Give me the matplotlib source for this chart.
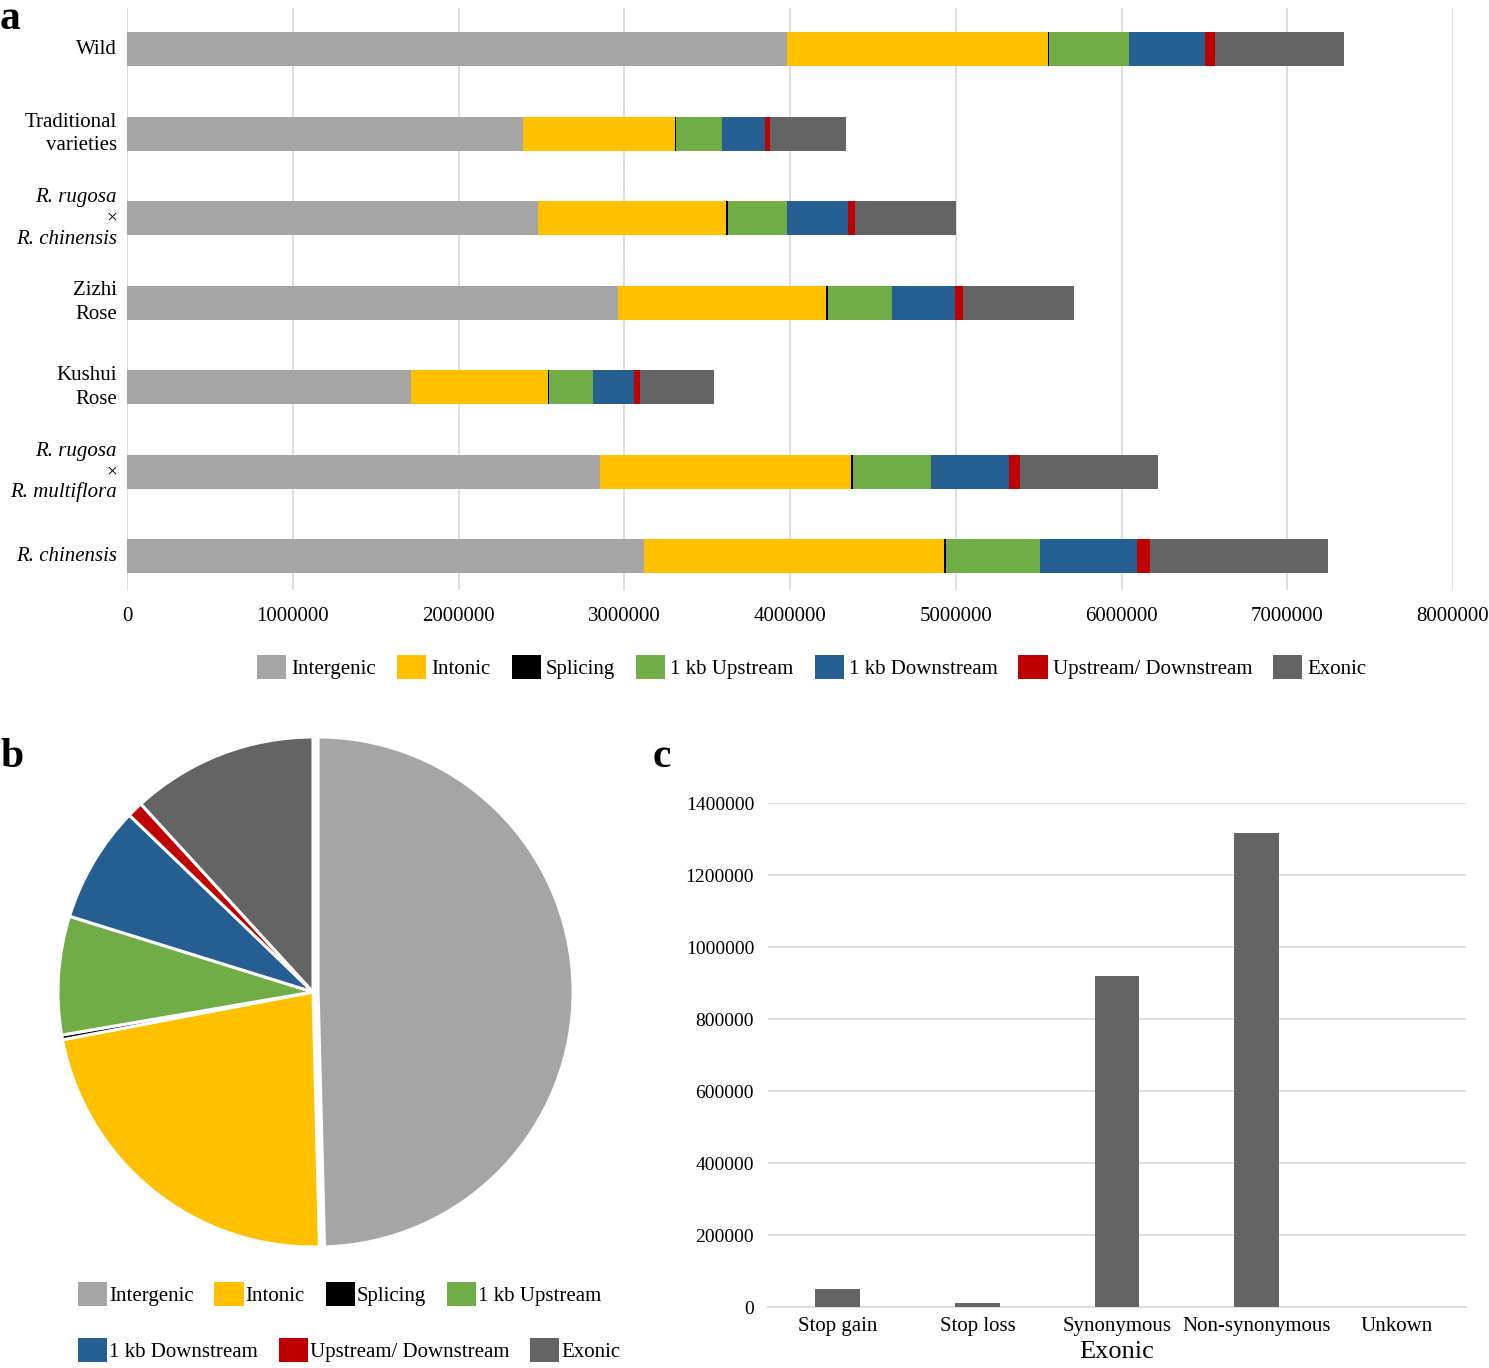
import matplotlib
matplotlib.use("Agg")
import matplotlib.pyplot as plt
from matplotlib.patches import Patch
import numpy as np

plt.rcParams['font.family'] = ['Liberation Serif', 'DejaVu Serif']

# ---------------- data ----------------
groups = ["Wild", "Traditional varieties", "R. rugosa × R. chinensis", "Zizhi Rose",
          "Kushui Rose", "R. rugosa × R. multiflora", "R. chinensis"]
categories = ["Intergenic", "Intonic", "Splicing", "1 kb Upstream", "1 kb Downstream",
              "Upstream/ Downstream", "Exonic"]
colors = ["#A5A5A5", "#FFC000", "#000000", "#70AD47", "#255E91", "#C00000", "#646464"]

intergenic = [3980000, 2389000, 2480000, 2962000, 1713000, 2854000, 3119000]
intonic    = [1577000,  917000, 1134000, 1255000,  827000, 1514000, 1810000]
splicing   = [   8000,    6000,   10000,   10000,    6000,   10000,   12000]
upstream   = [ 481000,  278000,  358000,  388000,  265000,  473000,  567000]
downstream = [ 459000,  259000,  368000,  380000,  247000,  470000,  585000]
updown     = [  60000,   30000,   42000,   48000,   36000,   66000,   78000]
exonic     = [ 778000,  459000,  609000,  670000,  446000,  833000, 1074000]
series = [intergenic, intonic, splicing, upstream, downstream, updown, exonic]

pie_values = [49.6, 22.4, 0.3, 7.5, 7.4, 1.0, 11.8]

exonic_types = ["Stop gain", "Stop loss", "Synonymous", "Non-synonymous", "Unkown"]
exonic_counts = [50000, 11000, 919000, 1317000, 0]

# ---------------- figure ----------------
W, H = 1489, 1368
fig = plt.figure(figsize=(W / 100, H / 100), dpi=100)

def fx(px):
    return px / W

def fy(py):
    return 1 - py / H

# ---------------- panel a ----------------
axa = fig.add_axes([fx(127), fy(590), fx(1453 - 127), (590 - 8) / H])
ypos = np.arange(len(groups))[::-1]
left = np.zeros(len(groups))
for vals, col, lab in zip(series, colors, categories):
    axa.barh(ypos, vals, left=left, height=0.4, color=col, label=lab, zorder=3)
    left += np.array(vals)
axa.set_xlim(0, 8000000)
axa.set_ylim(-0.40, 6.49)
axa.set_xticks(np.arange(0, 8000001, 1000000))
axa.set_xticklabels([f"{v:d}" for v in range(0, 8000001, 1000000)], fontsize=15)
axa.tick_params(axis='x', length=0, pad=12)
axa.set_yticks([])
axa.grid(axis='x', color='#D9D9D9', linewidth=1.2, zorder=0)
for s in axa.spines.values():
    s.set_visible(False)

lab_fs = 15
def ylabel_lines(y, lines, spacing=0.28):
    n = len(lines)
    for i, (txt, style) in enumerate(lines):
        off = (i - (n - 1) / 2) * spacing
        axa.text(-0.0075, y - off, txt, transform=axa.get_yaxis_transform(),
                 ha='right', va='center', fontsize=lab_fs if txt != "×" else 14,
                 style=style)

ylabel_lines(6, [("Wild", 'normal')])
ylabel_lines(5, [("Traditional", 'normal'), ("varieties", 'normal')])
ylabel_lines(4, [("R. rugosa", 'italic'), ("×", 'normal'), ("R. chinensis", 'italic')], spacing=0.245)
ylabel_lines(3, [("Zizhi", 'normal'), ("Rose", 'normal')])
ylabel_lines(2, [("Kushui", 'normal'), ("Rose", 'normal')])
ylabel_lines(1, [("R. rugosa", 'italic'), ("×", 'normal'), ("R. multiflora", 'italic')], spacing=0.245)
ylabel_lines(0, [("R. chinensis", 'italic')])

handles = [Patch(facecolor=c, edgecolor='none', label=l) for c, l in zip(colors, categories)]
fig.legend(handles=handles, loc='center', bbox_to_anchor=(fx(812), fy(667)), ncol=7,
           frameon=False, fontsize=15, handlelength=1.4, handleheight=1.4,
           handletextpad=0.25, columnspacing=1.0)

# ---------------- panel b ----------------
r = 255
half = r * 1.04
axb = fig.add_axes([fx(313 - half), fy(992 + half), 2 * half / W, 2 * half / H])
axb.pie(pie_values, colors=colors, startangle=90, counterclock=False,
        explode=[0.02, 0, 0, 0, 0, 0, 0],
        wedgeprops=dict(edgecolor='white', linewidth=2.2))
axb.set_xlim(-1.04, 1.04)
axb.set_ylim(-1.04, 1.04)
axb.set_aspect('auto')
axb.axis('off')

fig.legend(handles=handles[:4], loc='center left', bbox_to_anchor=(fx(59), fy(1294)), ncol=4,
           frameon=False, fontsize=15, handlelength=1.4, handleheight=1.4,
           handletextpad=0.1, columnspacing=1.0)
fig.legend(handles=handles[4:], loc='center left', bbox_to_anchor=(fx(59), fy(1350)), ncol=3,
           frameon=False, fontsize=15, handlelength=1.4, handleheight=1.4,
           handletextpad=0.1, columnspacing=1.0)

# ---------------- panel c ----------------
axc = fig.add_axes([fx(768), fy(1307), fx(1466 - 768), (1307 - 803) / H])
xc = np.arange(len(exonic_types))
axc.bar(xc, exonic_counts, width=0.32, color="#646464", zorder=3)
axc.set_xlim(-0.5, 4.5)
axc.set_ylim(0, 1400000)
axc.set_yticks(np.arange(0, 1400001, 200000))
axc.set_yticklabels([f"{v:d}" for v in range(0, 1400001, 200000)], fontsize=14)
axc.set_xticks(xc)
axc.set_xticklabels(exonic_types, fontsize=15)
axc.tick_params(axis='both', length=0)
axc.tick_params(axis='y', pad=10)
axc.tick_params(axis='x', pad=7)
axc.grid(axis='y', color='#D9D9D9', linewidth=1.2, zorder=0)
for k, s in axc.spines.items():
    s.set_visible(k == 'bottom')
axc.spines['bottom'].set_color('#D9D9D9')
axc.spines['bottom'].set_linewidth(1.2)
axc.set_xlabel("Exonic", fontsize=19, labelpad=4)

# ---------------- panel letters ----------------
fig.text(fx(0), fy(19), "a", fontsize=30, fontweight='bold', va='center', ha='left')
fig.text(fx(0), fy(757), "b", fontsize=30, fontweight='bold', va='center', ha='left')
fig.text(fx(653), fy(757), "c", fontsize=30, fontweight='bold', va='center', ha='left')

fig.savefig("out.png", dpi=100, facecolor='white')
